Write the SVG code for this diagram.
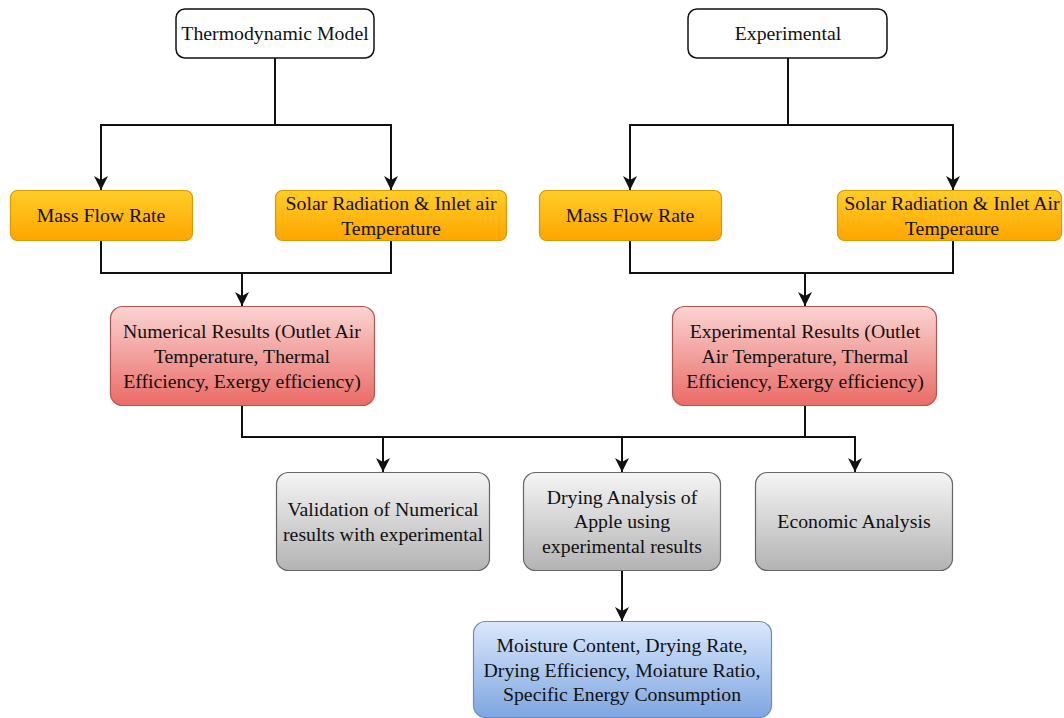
<svg xmlns="http://www.w3.org/2000/svg" width="1064" height="718" viewBox="0 0 1064 718">
<style>
text{font-family:"Liberation Serif","Times New Roman",serif;font-size:19.8px;fill:#111;text-anchor:middle}
.c{fill:none;stroke:#111;stroke-width:2}
.w{fill:#fff;stroke:#111;stroke-width:1.5}
.o{fill:url(#go);stroke:#d79b00;stroke-width:1.2}
.r{fill:url(#gr);stroke:#b85450;stroke-width:1.2}
.g{fill:url(#gg);stroke:#666;stroke-width:1.2}
.b{fill:url(#gb);stroke:#6c8ebf;stroke-width:1.2}
</style>
<defs>
<linearGradient id="go" x1="0" y1="0" x2="0" y2="1"><stop offset="0" stop-color="#ffcd28"/><stop offset="1" stop-color="#ffa500"/></linearGradient>
<linearGradient id="gr" x1="0" y1="0" x2="0" y2="1"><stop offset="0" stop-color="#fad4d2"/><stop offset="1" stop-color="#ea6b66"/></linearGradient>
<linearGradient id="gg" x1="0" y1="0" x2="0" y2="1"><stop offset="0" stop-color="#f5f5f5"/><stop offset="1" stop-color="#b3b3b3"/></linearGradient>
<linearGradient id="gb" x1="0" y1="0" x2="0" y2="1"><stop offset="0" stop-color="#dae8fc"/><stop offset="1" stop-color="#7ea6e0"/></linearGradient>
<marker id="ah" markerWidth="14" markerHeight="15" refX="14" refY="7" orient="auto" markerUnits="userSpaceOnUse" viewBox="0 0 14 14"><path d="M0,0 L14,7 L0,14 L4,7 Z" fill="#111"/></marker>
</defs>
<g id="connectors">
<path class="c" d="M275,58 V125 H101 V190" marker-end="url(#ah)"/>
<path class="c" d="M275,125 H391 V190" marker-end="url(#ah)"/>
<path class="c" d="M788,58 V125 H630 V190" marker-end="url(#ah)"/>
<path class="c" d="M788,125 H953 V190" marker-end="url(#ah)"/>
<path class="c" d="M101,241 V273 H391 V241"/>
<path class="c" d="M242,273 V306" marker-end="url(#ah)"/>
<path class="c" d="M630,241 V273 H953 V241"/>
<path class="c" d="M805,273 V306" marker-end="url(#ah)"/>
<path class="c" d="M242,406 V437 H855 V472" marker-end="url(#ah)"/>
<path class="c" d="M805,406 V437"/>
<path class="c" d="M383,437 V472" marker-end="url(#ah)"/>
<path class="c" d="M622,437 V472" marker-end="url(#ah)"/>
<path class="c" d="M622,571 V621" marker-end="url(#ah)"/>
</g>
<g id="thermo"><rect class="w" x="176" y="9" width="198" height="49" rx="9"/><text x="275" y="40">Thermodynamic Model</text></g>
<g id="experimental"><rect class="w" x="688" y="9" width="199" height="49" rx="9"/><text x="788" y="40">Experimental</text></g>
<g id="mfr1"><rect class="o" x="10.5" y="190.5" width="182" height="50" rx="7"/><text x="101" y="222">Mass Flow Rate</text></g>
<g id="solar1"><rect class="o" x="275.5" y="190.5" width="231" height="50" rx="7"/><text x="391" y="210">Solar Radiation &amp; Inlet air</text><text x="391" y="235">Temperature</text></g>
<g id="mfr2"><rect class="o" x="539.5" y="190.5" width="182" height="50" rx="7"/><text x="630" y="222">Mass Flow Rate</text></g>
<g id="solar2"><rect class="o" x="837.5" y="190.5" width="224" height="50" rx="7"/><text x="952" y="210">Solar Radiation &amp; Inlet Air</text><text x="952" y="235">Temperaure</text></g>
<g id="numres"><rect class="r" x="110.5" y="306.5" width="264" height="99" rx="12"/><text x="242" y="338">Numerical Results (Outlet Air</text><text x="242" y="363">Temperature, Thermal</text><text x="242" y="388">Efficiency, Exergy efficiency)</text></g>
<g id="expres"><rect class="r" x="672.5" y="306.5" width="264" height="99" rx="12"/><text x="805" y="338">Experimental Results (Outlet</text><text x="805" y="363">Air Temperature, Thermal</text><text x="805" y="388">Efficiency, Exergy efficiency)</text></g>
<g id="validation"><rect class="g" x="276.5" y="472.5" width="213" height="98" rx="12"/><text x="383" y="516">Validation of Numerical</text><text x="383" y="541">results with experimental</text></g>
<g id="drying"><rect class="g" x="523.5" y="472.5" width="197" height="98" rx="12"/><text x="622" y="504">Drying Analysis of</text><text x="622" y="528">Apple using</text><text x="622" y="553">experimental results</text></g>
<g id="economic"><rect class="g" x="755.5" y="472.5" width="197" height="98" rx="12"/><text x="854" y="528">Economic Analysis</text></g>
<g id="moisture"><rect class="b" x="473.5" y="621.5" width="298" height="96" rx="12"/><text x="622" y="652">Moisture Content, Drying Rate,</text><text x="622" y="677">Drying Efficiency, Moiature Ratio,</text><text x="622" y="701">Specific Energy Consumption</text></g>
</svg>
